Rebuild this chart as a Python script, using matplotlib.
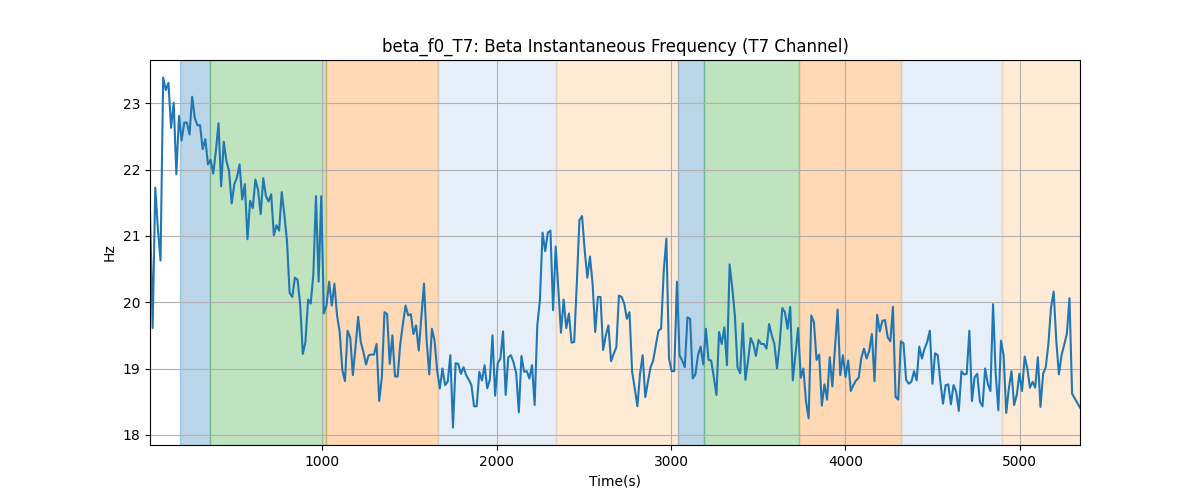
import numpy as np
import matplotlib
matplotlib.use("Agg")
import matplotlib.pyplot as plt

# sampling of the series
t_start = 14.0
t_step = 15.1

values = [
    # 14 .. ~880 s
    21.37, 19.61, 21.73, 21.1, 20.63, 23.39, 23.2, 23.31, 22.63, 23.01, 21.93, 22.81, 22.44, 22.71,
    22.71, 22.53, 23.1, 22.78, 22.67, 22.67, 22.31, 22.46, 22.08, 22.15, 21.94, 22.28, 22.7, 21.75,
    22.42, 22.13, 21.98, 21.49, 21.78, 21.88, 22.08, 21.55, 21.78, 20.95, 21.53, 21.42, 21.85, 21.70,
    21.33, 21.87, 21.6, 21.52, 21.63, 21.01, 21.16, 21.08, 21.66, 21.32, 20.92, 20.14, 20.08, 20.37,
    20.34, 19.97,
    # ~880 .. 1770 s
    19.22, 19.4, 20.04, 19.98, 20.42, 21.6, 20.31, 21.6, 19.83, 19.95, 20.31, 19.95, 20.28, 19.8,
    19.55, 18.98, 18.81, 19.57, 19.47, 18.9, 19.32, 19.78, 19.4, 19.25, 19.06, 19.2, 19.21, 19.21,
    19.37, 18.51, 18.87, 19.85, 19.82, 19.07, 19.5, 18.88, 18.88, 19.37, 19.67, 19.95, 19.8, 19.82,
    19.52, 19.65, 19.27, 19.77, 20.28, 19.42, 18.91, 19.6, 19.42, 18.97, 18.7, 19.0, 18.75, 18.8,
    19.2, 18.11, 19.08,
    # ~1770 .. 2660 s
    19.07, 18.92, 19.02, 18.9, 18.83, 18.75, 18.43, 18.43, 18.95, 18.82, 19.05, 18.7, 18.83, 19.5,
    18.59, 19.08, 19.15, 19.56, 18.6, 19.17, 19.2, 19.09, 18.93, 18.34, 19.19, 18.95, 18.96, 18.85,
    19.05, 18.45, 19.65, 20.03, 21.05, 20.77, 21.05, 21.08, 19.88, 20.84, 20.2, 19.54, 20.04, 19.61,
    19.83, 19.39, 19.4, 20.28, 21.24, 21.3, 20.78, 20.37, 20.69, 20.28, 19.55, 20.08, 20.08, 19.28,
    19.5, 19.65, 19.11,
    # ~2660 .. 3560 s
    19.22, 19.32, 20.1, 20.08, 19.98, 19.75, 19.85, 18.95, 18.7, 18.43, 18.92, 19.2, 18.57, 18.8,
    19.02, 19.12, 19.35, 19.57, 19.6, 20.47, 20.96, 19.15, 18.96, 18.96, 20.31, 19.2, 19.12, 19.02,
    19.77, 19.75, 18.85, 18.91, 19.2, 19.33, 19.06, 19.6, 19.13, 19.12, 18.87, 18.6, 19.55, 19.37,
    19.62, 19.05, 20.57, 20.22, 19.8, 19.02, 18.93, 19.68, 18.83, 19.12, 19.46, 19.37, 19.19, 19.43,
    19.37, 19.37, 19.3,
    # ~3560 .. 4450 s
    19.67, 19.5, 19.37, 19.0, 19.37, 19.91, 19.85, 19.6, 19.93, 18.82, 19.22, 19.61, 18.86, 19.0,
    18.5, 18.25, 19.8, 19.7, 19.13, 19.21, 18.44, 18.76, 18.53, 19.17, 18.73, 19.32, 19.89, 18.9,
    19.2, 18.87, 19.12, 18.66, 18.75, 18.82, 18.86, 19.16, 19.3, 19.15, 19.27, 19.52, 18.81, 19.81,
    19.56, 19.72, 19.73, 19.47, 19.41, 19.93, 18.57, 18.53, 19.41, 19.38, 18.83, 18.77, 18.8, 18.96,
    18.82, 19.33, 19.15, 19.3,
    # ~4450 .. 5344 s
    19.4, 19.57, 18.77, 19.23, 19.2, 18.8, 18.47, 18.75, 18.76, 18.46, 18.75, 18.65, 18.36, 18.96,
    18.91, 18.92, 19.57, 18.51, 18.87, 18.92, 18.5, 18.43, 19.0, 18.77, 18.66, 19.97, 18.92, 18.37,
    19.42, 19.2, 18.33, 18.7, 18.96, 18.45, 18.6, 18.92, 18.66, 19.18, 19.0, 18.71, 18.8, 18.71,
    19.17, 18.42, 18.92, 19.02, 19.37, 19.92, 20.16, 19.42, 18.91, 19.2, 19.36, 19.52, 20.06, 18.62,
    18.55, 18.48, 18.41,
]

# shaded phases: start, end, colour
span_starts = [186, 358, 1023, 1667, 2343, 3042, 3191, 3735, 4316, 4899]
span_ends = [358, 1023, 1667, 2343, 3042, 3191, 3735, 4316, 4899, 5344]
span_colors = ["#1f77b4", "#2ca02c", "#ff7f0e", "#aec7e8", "#ffbb78",
               "#1f77b4", "#2ca02c", "#ff7f0e", "#aec7e8", "#ffbb78"]

title = "beta_f0_T7: Beta Instantaneous Frequency (T7 Channel)"
xlabel = "Time(s)"
ylabel = "Hz"

y = np.array(values)
t = t_start + t_step * np.arange(len(y))

fig, ax = plt.subplots(figsize=(12, 5), dpi=100)
for s, e, c in zip(span_starts, span_ends, span_colors):
    ax.axvspan(s, e, color=c, alpha=0.3)
ax.plot(t, y, color="tab:blue", linewidth=1.5)
ax.set_xlim(t[0], t[-1])
ax.grid(True)
ax.set_title(title)
ax.set_xlabel(xlabel)
ax.set_ylabel(ylabel)
fig.savefig("out.png", dpi=100)
